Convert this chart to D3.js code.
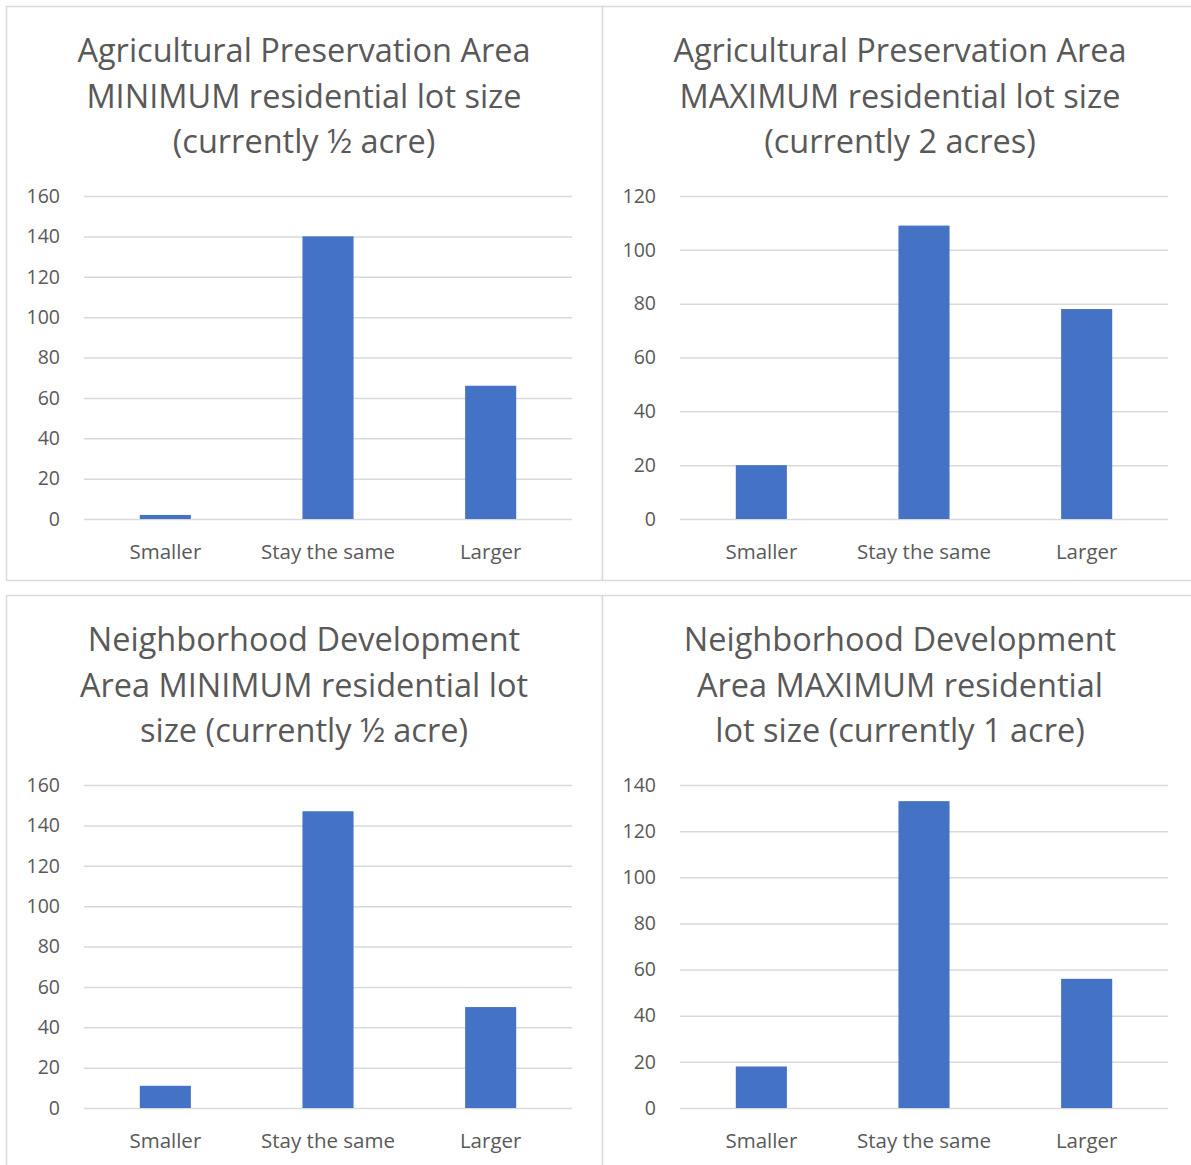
<!DOCTYPE html>
<html><head><meta charset="utf-8">
<script src="https://cdn.jsdelivr.net/npm/d3@7"></script>
<style>body{margin:0;background:#fff;} svg{display:block;}</style>
</head><body>
<script>
const categories = ["Smaller", "Stay the same", "Larger"];
const titles = [
  ["Agricultural Preservation Area", "MINIMUM residential lot size", "(currently ½ acre)"],
  ["Agricultural Preservation Area", "MAXIMUM residential lot size", "(currently 2 acres)"],
  ["Neighborhood Development", "Area MINIMUM residential lot", "size (currently ½ acre)"],
  ["Neighborhood Development", "Area MAXIMUM residential", "lot size (currently 1 acre)"]
];
const apMinValues = [2, 140, 66];
const apMaxValues = [20, 109, 78];
const ndMinValues = [11, 147, 50];
const ndMaxValues = [18, 133, 56];
const yMaxes = [160, 120, 160, 140];
const tickSteps = [20, 20, 20, 20];
const seriesValues = [apMinValues, apMaxValues, ndMinValues, ndMaxValues];

const W = 1191, H = 1165;
const svg = d3.select("body").append("svg").attr("width", W).attr("height", H);
const font = "'Open Sans', sans-serif";
const textColor = "#595959", gridColor = "#d9d9d9", barColor = "#4472c4";

const panels = [
  {x: 6, y: 6, w: 596, h: 574},
  {x: 602, y: 6, w: 596, h: 574},
  {x: 6, y: 595, w: 596, h: 574},
  {x: 602, y: 595, w: 596, h: 574}
];

panels.forEach((p, i) => {
  const g = svg.append("g").attr("transform", `translate(${p.x},${p.y})`);
  g.append("rect").attr("x", 0.5).attr("y", 0.5).attr("width", p.w).attr("height", p.h)
    .attr("fill", "#fff").attr("stroke", gridColor).attr("stroke-width", 1.5);

  const tx = 298;
  g.append("text").attr("font-family", font).attr("font-size", 32.5).attr("fill", textColor)
    .attr("text-anchor", "middle")
    .selectAll("tspan").data(titles[i]).join("tspan")
    .attr("x", tx).attr("y", (d, k) => 56 + k * 45.5).text(d => d);

  const plotL = 78, plotR = 566, plotT = 190, plotB = 513;
  const y = d3.scaleLinear().domain([0, yMaxes[i]]).range([plotB, plotT]);
  const x = d3.scaleBand().domain(categories).range([plotL, plotR]).paddingInner(0.686).paddingOuter(0.343);
  const ticks = d3.range(0, yMaxes[i] + 1, tickSteps[i]);

  const yAxis = d3.axisLeft(y).tickValues(ticks).tickSize(-(plotR - plotL)).tickPadding(24);
  const ya = g.append("g").attr("transform", `translate(${plotL},0)`).call(yAxis);
  ya.select(".domain").remove();
  ya.selectAll("line").attr("stroke", gridColor).attr("stroke-width", 1.5);
  ya.selectAll("text").attr("font-family", font).attr("font-size", 19.5).attr("fill", textColor);

  g.selectAll("rect.bar").data(seriesValues[i]).join("rect").attr("class", "bar")
    .attr("x", (d, k) => x(categories[k])).attr("width", x.bandwidth())
    .attr("y", d => y(d)).attr("height", d => plotB - y(d)).attr("fill", barColor);

  const xAxis = d3.axisBottom(x).tickSize(0).tickPadding(25);
  const xa = g.append("g").attr("transform", `translate(0,${plotB})`).call(xAxis);
  xa.select(".domain").remove();
  xa.selectAll("text").attr("font-family", font).attr("font-size", 20.5).attr("fill", textColor);
});
</script>
</body></html>
